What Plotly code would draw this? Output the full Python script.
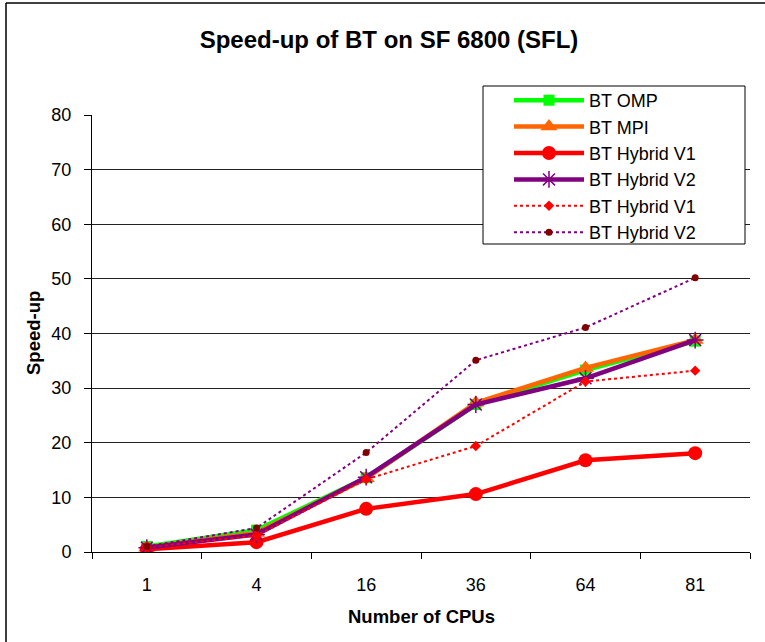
import plotly.graph_objects as go

cpus = ["1", "4", "16", "36", "64", "81"]
bt_omp = [1.0, 4.0, 13.6, 27.0, 33.3, 38.6]
bt_mpi = [0.8, 3.5, 13.5, 27.3, 33.7, 38.8]
bt_hybrid_v1 = [0.5, 1.8, 7.9, 10.6, 16.8, 18.1]
bt_hybrid_v2 = [0.8, 3.2, 13.7, 27.0, 31.8, 38.8]
bt_hybrid_v1_est = [0.9, 3.0, 13.3, 19.4, 31.2, 33.2]
bt_hybrid_v2_est = [1.0, 4.4, 18.2, 35.1, 41.1, 50.2]

names = ["BT OMP", "BT MPI", "BT Hybrid V1", "BT Hybrid V2", "BT Hybrid V1", "BT Hybrid V2"]

fig = go.Figure()

fig.add_trace(go.Scatter(x=cpus, y=bt_omp, name=names[0], mode="lines+markers",
                         line=dict(color="#00FF00", width=4.5),
                         marker=dict(symbol="square", size=11, color="#00FF00")))
fig.add_trace(go.Scatter(x=cpus, y=bt_mpi, name=names[1], mode="lines+markers",
                         line=dict(color="#FF6600", width=4.5),
                         marker=dict(symbol="triangle-up", size=15, color="#FF6600")))
fig.add_trace(go.Scatter(x=cpus, y=bt_hybrid_v1, name=names[2], mode="lines+markers",
                         line=dict(color="#FF0000", width=4.5),
                         marker=dict(symbol="circle", size=14, color="#FF0000")))
fig.add_trace(go.Scatter(x=cpus, y=bt_hybrid_v2, name=names[3], mode="lines+markers",
                         line=dict(color="#800080", width=4.5),
                         marker=dict(symbol="asterisk-open", size=14, color="#800080",
                                     line=dict(color="#800080", width=1.5))))
fig.add_trace(go.Scatter(x=cpus, y=bt_hybrid_v1_est, name=names[4], mode="lines+markers",
                         line=dict(color="#FF0000", width=2, dash="dot"),
                         marker=dict(symbol="diamond", size=8, color="#FF0000")))
fig.add_trace(go.Scatter(x=cpus, y=bt_hybrid_v2_est, name=names[5], mode="lines+markers",
                         line=dict(color="#800080", width=2, dash="dot"),
                         marker=dict(symbol="circle", size=7, color="#800000")))

L, R, T, B = 92, 15, 115, 90
W, H = 765, 642
pw, ph = W - L - R, H - T - B

def px(xp):
    return (xp - L) / pw

def py(yp):
    return (H - B - yp) / ph

font = "Liberation Sans, Arial, sans-serif"

fig.update_layout(
    width=W, height=H,
    margin=dict(l=L, r=R, t=T, b=B),
    paper_bgcolor="white", plot_bgcolor="white",
    font=dict(family=font, size=18, color="black"),
    title=dict(text="<b>Speed-up of BT on SF 6800 (SFL)</b>", x=389 / W, xanchor="center",
               y=1 - 40 / H, yanchor="middle", font=dict(size=24, family=font)),
    showlegend=True,
    legend=dict(x=px(509), y=py(82), xanchor="left", yanchor="top",
                bgcolor="rgba(0,0,0,0)", borderwidth=0,
                font=dict(size=18, family=font), itemwidth=70,
                tracegroupgap=0),
    xaxis=dict(type="category", range=[-0.5, 5.5], showline=True, linecolor="black", linewidth=1,
               ticks="outside", ticklen=6, tickcolor="black", tickson="boundaries",
               showgrid=False, tickfont=dict(size=18), ticklabelstandoff=16),
    yaxis=dict(range=[0, 80], dtick=10, showline=True, linecolor="black", linewidth=1,
               ticks="outside", ticklen=7, tickcolor="black", showgrid=True,
               gridcolor="#222222", gridwidth=1, zeroline=False, tickfont=dict(size=18),
               ticklabelstandoff=9),
    annotations=[
        dict(text="<b>Speed-up</b>", x=px(33), y=py(333), xref="paper", yref="paper",
             xanchor="center", yanchor="middle",
             textangle=-90, showarrow=False, font=dict(size=18.5, family=font)),
        dict(text="<b>Number of CPUs</b>", x=px(421), y=py(616), xref="paper", yref="paper",
             xanchor="center", yanchor="middle",
             showarrow=False, font=dict(size=18.5, family=font)),
    ],
    shapes=[
        dict(type="line", xref="paper", yref="paper", x0=px(6), x1=px(6), y0=py(645), y1=py(3),
             line=dict(color="black", width=1.5)),
        dict(type="line", xref="paper", yref="paper", x0=px(6), x1=px(770), y0=py(3), y1=py(3),
             line=dict(color="black", width=1.5)),
        dict(type="rect", xref="paper", yref="paper", x0=px(483), x1=px(745), y0=py(244), y1=py(86),
             line=dict(color="black", width=1), fillcolor="white", layer="above"),
    ],
)

fig.write_html("out.html")
